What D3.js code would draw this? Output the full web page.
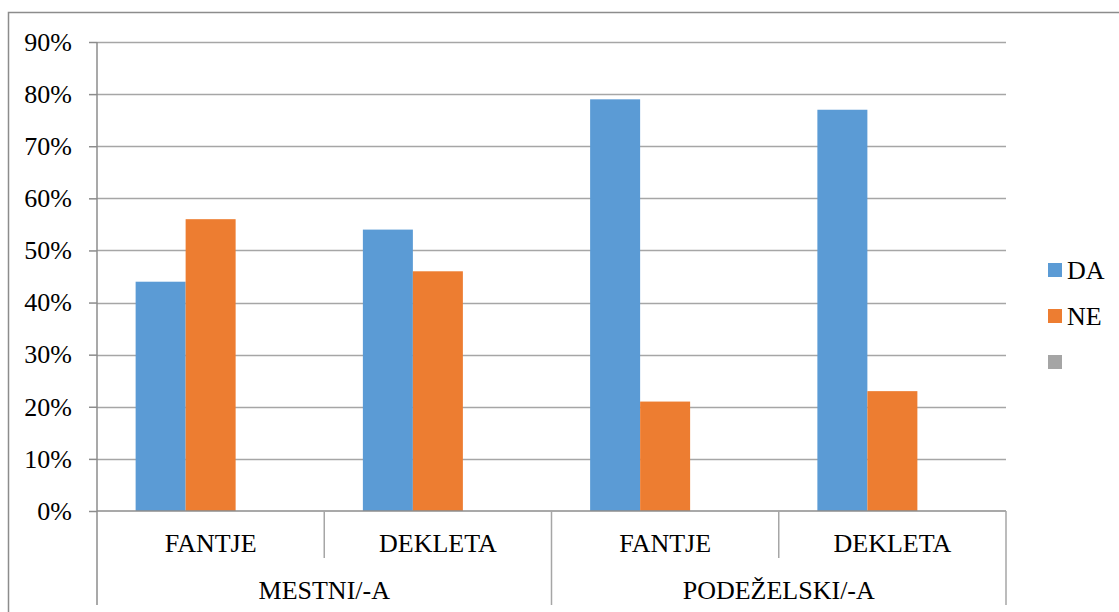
<!DOCTYPE html>
<html><head><meta charset="utf-8">
<script src="https://cdn.jsdelivr.net/npm/d3@7/dist/d3.min.js"></script>
<style>body{margin:0;background:#fff}</style>
</head><body><svg id="c" width="1119" height="612" font-family="Liberation Serif"></svg>
<script>
const groups = ["MESTNI/-A", "PODEŽELSKI/-A"];
const subCats = ["FANTJE", "DEKLETA"];
const seriesNames = ["DA", "NE", ""];
const seriesColors = ["#5B9BD5", "#ED7D31", "#A5A5A5"];
const daValues = [44, 54, 79, 77];
const neValues = [56, 46, 21, 23];
const thirdValues = [null, null, null, null];
const yTicks = [0, 10, 20, 30, 40, 50, 60, 70, 80, 90];

const FONT = "Liberation Serif";
const FS = 26;
const svg = d3.select("#c");
const L = 97, R = 1006, T = 42, B = 511;
const cats = [];
groups.forEach(g => subCats.forEach(s => cats.push(g + "|" + s)));
const series = [daValues, neValues, thirdValues];

const x = d3.scaleBand().domain(cats).range([L, R]).padding(0);
const xs = d3.scaleBand().domain(seriesNames.map((d,i)=>i)).range([0, x.bandwidth()]).paddingInner(0).paddingOuter((x.bandwidth()/50 - 3)/2);
const y = d3.scaleLinear().domain([0, 90]).range([B, T]);

function txt(sel){ return sel.attr("font-family", FONT).attr("font-size", FS).attr("fill", "#000"); }

// outer border
svg.append("path").attr("d", `M8.5,612 V12.5 H1119`).attr("fill","none").attr("stroke","#8c8c8c").attr("stroke-width",1.5);

// gridlines
svg.append("g").selectAll("line").data(yTicks.filter(d=>d>0)).join("line")
  .attr("x1", L).attr("x2", R).attr("y1", d=>Math.round(y(d))+0.5).attr("y2", d=>Math.round(y(d))+0.5)
  .attr("stroke", "#a6a6a6").attr("stroke-width", 1.5);

// bars
series.forEach((vals, si) => {
  svg.append("g").selectAll("rect").data(vals.map((v,i)=>({v, c: cats[i]})).filter(d=>d.v!=null)).join("rect")
    .attr("x", d => x(d.c) + xs(si)).attr("width", xs.bandwidth())
    .attr("y", d => y(d.v)).attr("height", d => B - y(d.v))
    .attr("fill", seriesColors[si]);
});

// y axis
const yAxis = d3.axisLeft(y).tickValues(yTicks).tickFormat(d => d + "%").tickSize(8).tickPadding(17);
const ga = svg.append("g").attr("transform", `translate(${L},0)`).call(yAxis);
ga.attr("font-family", FONT).attr("font-size", FS);
ga.select(".domain").remove();
ga.selectAll(".tick line").attr("stroke", "#8c8c8c").attr("stroke-width", 1.5);
txt(ga.selectAll(".tick text")).attr("dy", "0.32em");

// axes lines
svg.append("line").attr("x1", L).attr("x2", L).attr("y1", T).attr("y2", 605).attr("stroke", "#8c8c8c").attr("stroke-width", 1.5);
svg.append("line").attr("x1", L).attr("x2", R).attr("y1", B).attr("y2", B).attr("stroke", "#8c8c8c").attr("stroke-width", 1.5);

// category separators
cats.forEach((c, i) => {
  const xx = x(c) + x.bandwidth();
  const isGroupEnd = (i % subCats.length) === subCats.length - 1;
  svg.append("line").attr("x1", xx).attr("x2", xx).attr("y1", B).attr("y2", isGroupEnd ? 605 : 558)
    .attr("stroke", "#a6a6a6").attr("stroke-width", 1.5);
});

// sub category labels
txt(svg.append("g").selectAll("text").data(cats).join("text")
  .attr("x", d => x(d) + x.bandwidth()/2).attr("y", 552)
  .attr("text-anchor", "middle").text(d => d.split("|")[1]));

// group labels
txt(svg.append("g").selectAll("text").data(groups).join("text")
  .attr("x", (g, gi) => x(cats[gi*subCats.length]) + x.bandwidth()*subCats.length/2).attr("y", 599)
  .attr("text-anchor", "middle").text(d => d));

// legend
const lg = svg.append("g");
seriesNames.forEach((n, i) => {
  const yy = 263 + i*46;
  lg.append("rect").attr("x", 1048).attr("y", yy).attr("width", 14).attr("height", 14).attr("fill", seriesColors[i]);
  txt(lg.append("text").attr("x", 1067).attr("y", yy + 16).text(n));
});
</script></body></html>
